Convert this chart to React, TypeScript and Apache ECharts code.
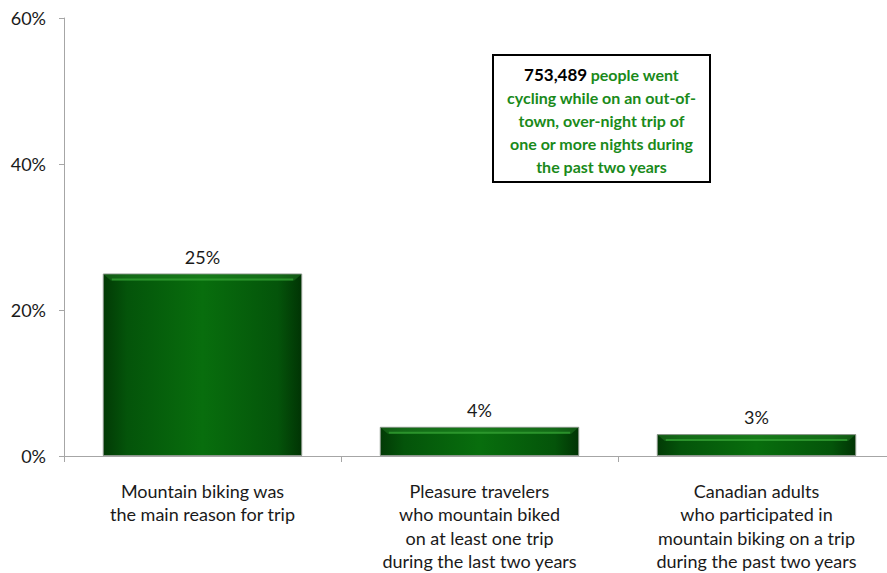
import React, { useEffect, useRef } from "react";
import * as echarts from "echarts";

const categories = [
  "Mountain biking was\nthe main reason for trip",
  "Pleasure travelers\nwho mountain biked\non at least one trip\nduring the last two years",
  "Canadian adults\nwho participated in\nmountain biking on a trip\nduring the past two years",
];
const values = [25, 4, 3];
const yTicks = [0, 20, 40, 60];
const calloutNumber = "753,489";
const calloutLines = [
  "people went",
  "cycling while on an out-of-",
  "town, over-night trip of",
  "one or more nights during",
  "the past two years",
];

const FONT = "Lato, 'Open Sans', sans-serif";

export default function App() {
  const ref = useRef<HTMLDivElement>(null);
  useEffect(() => {
    if (!ref.current) return;
    const chart = echarts.init(ref.current, undefined, { renderer: "svg" });
    const barGradient = new echarts.graphic.LinearGradient(0, 0, 1, 0, [
      { offset: 0, color: "#023a05" },
      { offset: 0.12, color: "#04540a" },
      { offset: 0.5, color: "#086e0d" },
      { offset: 0.88, color: "#04540a" },
      { offset: 1, color: "#013404" },
    ]);
    chart.setOption({
      animation: false,
      textStyle: { fontFamily: FONT },
      grid: {
        left: 64,
        top: 18,
        bottom: 117,
        right: -8,
        containLabel: false,
        outerBoundsMode: "none",
      },
      xAxis: {
        type: "category",
        data: categories,
        axisLine: { lineStyle: { color: "#a6a6a6", width: 1 } },
        axisTick: { show: true, length: 6, lineStyle: { color: "#a6a6a6" } },
        axisLabel: {
          color: "#1a1a1a",
          fontSize: 18,
          lineHeight: 23.5,
          margin: 23,
          fontFamily: FONT,
          interval: 0,
        },
      },
      yAxis: {
        type: "value",
        min: yTicks[0],
        max: yTicks[yTicks.length - 1],
        interval: 20,
        splitLine: { show: false },
        axisLine: { show: true, lineStyle: { color: "#a6a6a6", width: 1 } },
        axisTick: { show: true, length: 5, lineStyle: { color: "#a6a6a6" } },
        axisLabel: {
          color: "#1a1a1a",
          fontSize: 18,
          margin: 18,
          fontFamily: FONT,
          formatter: (v: number) => `${v}%`,
        },
      },
      series: [
        {
          type: "bar",
          data: values,
          barWidth: "72%",
          itemStyle: {
            color: barGradient,
            borderColor: "#8a968a",
            borderWidth: 1,
          },
          label: {
            show: true,
            position: "top",
            distance: 8,
            color: "#1a1a1a",
            fontSize: 18,
            fontFamily: FONT,
            formatter: (p: any) => `${p.value}%`,
          },
        },
        {
          type: "custom",
          data: values.map((v, i) => [i, v]),
          encode: { x: 0, y: 1 },
          silent: true,
          z: 5,
          renderItem: (params: any, api: any) => {
            const idx = api.value(0);
            const v = api.value(1);
            const top = api.coord([idx, v]);
            const size = api.size([1, 0]);
            const bw = size[0] * 0.72;
            const x0 = top[0] - bw / 2;
            const y = top[1] + 6;
            return {
              type: "group",
              children: [
                {
                  type: "polygon",
                  shape: {
                    points: [
                      [x0 + 1, top[1] + 1],
                      [x0 + bw - 1, top[1] + 1],
                      [x0 + bw - 8, y + 1],
                      [x0 + 8, y + 1],
                    ],
                  },
                  style: { fill: "rgba(50,150,50,0.35)" },
                },
                {
                  type: "line",
                  shape: { x1: x0 + 9, y1: y, x2: x0 + bw - 9, y2: y },
                  style: { stroke: "#33a033", lineWidth: 2, opacity: 0.75 },
                },
              ],
            };
          },
        },
      ],
      graphic: [
        {
          type: "rect",
          shape: { x: 493, y: 55, width: 217, height: 127 },
          style: { fill: "#ffffff", stroke: "#000000", lineWidth: 2 },
        },
        {
          type: "text",
          x: 601.5,
          y: 63,
          style: {
            text:
              `{b|${calloutNumber}} {g|${calloutLines[0]}}\n` +
              calloutLines
                .slice(1)
                .map((l) => `{g|${l}}`)
                .join("\n"),
            align: "center",
            verticalAlign: "top",
            rich: {
              b: {
                fontFamily: FONT,
                fontSize: 17,
                fontWeight: "bold",
                fill: "#000000",
                lineHeight: 23,
                align: "center",
              },
              g: {
                fontFamily: FONT,
                fontSize: 16,
                fontWeight: "bold",
                fill: "#1a8a1a",
                lineHeight: 23,
                align: "center",
              },
            },
          },
        },
      ],
    });
    return () => chart.dispose();
  }, []);
  return (
    <div
      ref={ref}
      style={{ position: "fixed", left: 0, top: 0, width: 887, height: 573, background: "#fff" }}
    />
  );
}
